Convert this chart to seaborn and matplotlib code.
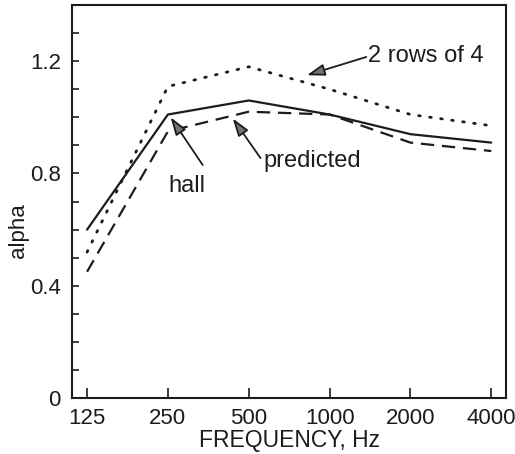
import numpy as np
import pandas as pd
import matplotlib
matplotlib.use("Agg")
import matplotlib.pyplot as plt
import seaborn as sns

# octave-band centre frequencies (Hz)
freqs = [125, 250, 500, 1000, 2000, 4000]
freq_labels = ["125", "250", "500", "1000", "2000", "4000"]

# absorption coefficients
alpha_hall = [0.60, 1.01, 1.06, 1.01, 0.94, 0.91]
alpha_rows = [0.52, 1.11, 1.18, 1.10, 1.01, 0.97]
alpha_predicted = [0.45, 0.95, 1.02, 1.01, 0.91, 0.88]

sns.set_theme(style="white")
plt.rcParams["font.family"] = ["Liberation Sans", "DejaVu Sans"]
ink = "#1c1c1c"

fig = plt.figure(figsize=(5.15, 4.54), dpi=100)
ax = fig.add_axes([0.140, 0.123, 0.843, 0.866])

# Draw each curve
sns.lineplot(x=freqs, y=alpha_hall, ax=ax, color=ink, lw=1.6, linestyle="-")
sns.lineplot(x=freqs, y=alpha_rows, ax=ax, color=ink, lw=2.0,
             linestyle=(0, (0.6, 3.4)), dash_capstyle="round")
sns.lineplot(x=freqs, y=alpha_predicted, ax=ax, color=ink, lw=1.6,
             linestyle=(0, (6, 3.5)))

ax.set_xscale("log", base=2)
ax.set_xlim(125 * 2 ** -0.185, 4000 * 2 ** 0.185)
ax.set_ylim(0, 1.4)

ax.set_xticks(freqs)
ax.set_xticklabels(freq_labels)
ax.xaxis.set_minor_locator(matplotlib.ticker.NullLocator())
ax.set_yticks(np.arange(0, 1.41, 0.1), minor=True)
ax.set_yticks([0, 0.4, 0.8, 1.2])
ax.set_yticklabels(["0", "0.4", "0.8", "1.2"])

ax.tick_params(axis="both", which="both", direction="in", color=ink,
               labelcolor=ink, labelsize=16, width=1.2)
ax.tick_params(axis="x", which="major", length=7, pad=7, bottom=True)
ax.tick_params(axis="y", which="both", length=5, pad=8, left=True)

for sp in ax.spines.values():
    sp.set_color(ink)
    sp.set_linewidth(1.5)

ax.set_xlabel("FREQUENCY, Hz", fontsize=16.5, color=ink, labelpad=0)
ax.set_ylabel("alpha", fontsize=16, color=ink)
ax.yaxis.set_label_coords(-0.10, 0.425)

# Callouts
arrow = dict(arrowstyle="-|>,head_length=0.9,head_width=0.3",
             fc="0.45", ec=ink, lw=1.3, shrinkA=0, shrinkB=0)
ax.annotate("", xy=(824, 1.15), xytext=(1370, 1.215), arrowprops=arrow)
ax.text(1390, 1.218, "2 rows of 4", fontsize=17, color=ink, va="center", ha="left")

ax.annotate("", xy=(256, 1.0), xytext=(337, 0.83), arrowprops=arrow)
ax.text(294, 0.757, "hall", fontsize=17, color=ink, va="center", ha="center")

ax.annotate("", xy=(436, 0.996), xytext=(553, 0.855), arrowprops=arrow)
ax.text(565, 0.843, "predicted", fontsize=17, color=ink, va="center", ha="left")

fig.savefig("out.png", dpi=100)
